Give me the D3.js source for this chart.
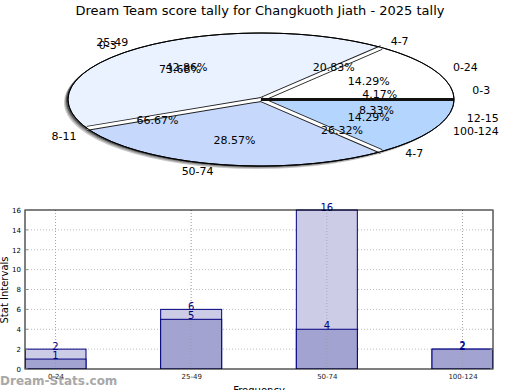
<!DOCTYPE html>
<html><head><meta charset="utf-8">
<script src="https://cdn.jsdelivr.net/npm/d3@7"></script>
<style>body{margin:0;background:#fff}svg{display:block;font-family:"DejaVu Sans",sans-serif}</style>
</head><body><svg id="c" width="520" height="390"></svg>
<script>
// ---- data ----
const title = "Dream Team score tally for Changkuoth Jiath - 2025 tally";
const pie1Labels = ["0-24","25-49","50-74","100-124"];
const pie1Values = [2,6,4,2];
const pie1Colors = ["#ffffff","#eaf1ff","#c6d9fd","#b4d5fe"];
const pie2Labels = ["0-3","4-7","8-11","12-15"];
const pie2Values = [1,5,16,2];
const pie3Labels = ["0-3","4-7"];
const pie3Values = [14,5];
const barCategories = ["0-24","25-49","50-74","100-124"];
const barLight = [2,6,16,2];
const barDark = [1,5,4,2];
const yTicks = [0,2,4,6,8,10,12,14,16];

const svg = d3.select("#c");
svg.append("text").attr("x",260).attr("y",15).attr("text-anchor","middle")
  .attr("font-size",13).attr("fill","#000").text(title);

// ---- 3D-ish pie ----
const cx=261, cy=99.5, rx=193, ry=66.5;
const pt=(a,fx,fy)=>[cx+Math.cos(a)*fx, cy-Math.sin(a)*fy];
function angles(vals){
  const tot=d3.sum(vals); let acc=0;
  return vals.map(v=>{const s=acc/tot*2*Math.PI; acc+=v; return {s, e:acc/tot*2*Math.PI, p:v/tot};});
}
const g=svg.append("g");
// shadow/depth
[[-4,3,"#c8c8c8"],[-3,2,"#9a9a9a"],[-2,1,"#555"]].forEach(([dx,dy,c])=>{
  g.append("ellipse").attr("cx",cx+dx).attr("cy",cy+dy).attr("rx",rx).attr("ry",ry)
   .attr("fill",c);
});
const a1=angles(pie1Values);
function slicePath(s,e){
  const p=d3.path(); p.moveTo(cx,cy);
  const n=60;
  for(let i=0;i<=n;i++){const a=s+(e-s)*i/n; const q=pt(a,rx,ry); p.lineTo(q[0],q[1]);}
  p.closePath(); return p.toString();
}
a1.forEach((d,i)=>{
  g.append("path").attr("d",slicePath(d.s,d.e)).attr("fill",pie1Colors[i])
   .attr("stroke","#000").attr("stroke-width",1);
});
// slice boundaries (white with dark edges)
a1.forEach((d,i)=>{
  if(d.s===0) return;
  const q=pt(d.s,rx,ry);
  g.append("line").attr("x1",cx).attr("y1",cy).attr("x2",q[0]).attr("y2",q[1])
   .attr("stroke","#222").attr("stroke-width",5);
  g.append("line").attr("x1",cx).attr("y1",cy).attr("x2",q[0]).attr("y2",q[1])
   .attr("stroke","#fff").attr("stroke-width",3);
});
{const q=pt(0,rx,ry);
 g.append("line").attr("x1",cx).attr("y1",cy).attr("x2",q[0]).attr("y2",q[1])
  .attr("stroke","#111").attr("stroke-width",3);}
g.append("ellipse").attr("cx",cx).attr("cy",cy).attr("rx",rx).attr("ry",ry)
 .attr("fill","none").attr("stroke","#000").attr("stroke-width",1);

function labels(labs,vals){
  angles(vals).forEach((d,i)=>{
    const m=(d.s+d.e)/2, c=Math.cos(m);
    const q=pt(m,rx+20,ry+7);
    g.append("text").attr("x",q[0]).attr("y",q[1]).attr("dy","0.35em")
     .attr("text-anchor", c>0.05?"start":(c<-0.05?"end":"middle"))
     .attr("font-size",11).attr("fill","#000").text(labs[i]);
    const r=pt(m,rx*0.62,ry*0.62);
    g.append("text").attr("x",r[0]).attr("y",r[1]).attr("dy","0.35em")
     .attr("text-anchor","middle").attr("font-size",11).attr("fill","#000")
     .text((d.p*100).toFixed(2)+"%");
  });
}
labels(pie1Labels,pie1Values);
labels(pie2Labels,pie2Values);
labels(pie3Labels,pie3Values);

// ---- bar chart ----
const L=25,R=493,T=210,B=369;
const x=d3.scalePoint().domain(barCategories).range([55.5,462.5]);
const y=d3.scaleLinear().domain([0,16]).range([B,T]);
const bw=61;
const b=svg.append("g");
b.append("rect").attr("x",L).attr("y",T).attr("width",R-L).attr("height",B-T).attr("fill","#fff");
// grid
yTicks.slice(1,-1).forEach(t=>{
  b.append("line").attr("x1",L).attr("x2",R).attr("y1",y(t)).attr("y2",y(t))
   .attr("stroke","#bbb").attr("stroke-dasharray","1,2");
});
barCategories.forEach(c=>{
  b.append("line").attr("x1",x(c)).attr("x2",x(c)).attr("y1",T).attr("y2",B)
   .attr("stroke","#bbb").attr("stroke-dasharray","1,2");
});
// bars
const clip=svg.append("clipPath").attr("id","pc").append("rect").attr("x",L).attr("y",T-1).attr("width",R-L).attr("height",B-T+1);
const bars=b.append("g").attr("clip-path","url(#pc)");
bars.selectAll(".l").data(barLight).join("rect")
  .attr("x",(d,i)=>x(barCategories[i])-bw/2).attr("y",d=>y(d))
  .attr("width",bw).attr("height",d=>B-y(d))
  .attr("fill","#ccccE6").attr("stroke","#000080").attr("stroke-width",1);
bars.selectAll(".d").data(barDark).join("rect")
  .attr("x",(d,i)=>x(barCategories[i])-bw/2).attr("y",d=>y(d))
  .attr("width",bw).attr("height",d=>B-y(d))
  .attr("fill","#a3a3d1").attr("stroke","#000080").attr("stroke-width",1);
// redraw vertical grid over bars (visible in reference)
barCategories.forEach(c=>{
  b.append("line").attr("x1",x(c)).attr("x2",x(c)).attr("y1",T).attr("y2",B)
   .attr("stroke","#999").attr("stroke-dasharray","1,2").attr("opacity",0.6);
});
// value labels
barLight.forEach((v,i)=>{
  b.append("text").attr("x",x(barCategories[i])).attr("y",y(v)-3).attr("dy","0.35em")
   .attr("text-anchor","middle").attr("font-size",10).attr("fill","#000080").text(v);
});
barDark.forEach((v,i)=>{
  b.append("text").attr("x",x(barCategories[i])).attr("y",y(v)-4).attr("dy","0.35em")
   .attr("text-anchor","middle").attr("font-size",10).attr("fill","#000080").text(v);
});
// frame
b.append("rect").attr("x",L).attr("y",T).attr("width",R-L).attr("height",B-T)
 .attr("fill","none").attr("stroke","#000").attr("stroke-width",1);
// y ticks
const yAxis=d3.axisLeft(y).tickValues(yTicks).tickSize(0).tickPadding(4);
const ya=b.append("g").attr("transform",`translate(${L},0)`).call(yAxis);
ya.select(".domain").remove();
ya.selectAll("text").attr("font-size",7).attr("font-family","DejaVu Sans").attr("fill","#000");
yTicks.forEach(t=>{
  b.append("line").attr("x1",L).attr("x2",L+3).attr("y1",y(t)).attr("y2",y(t)).attr("stroke","#888");
  b.append("line").attr("x1",R-3).attr("x2",R).attr("y1",y(t)).attr("y2",y(t)).attr("stroke","#888");
});
// x axis
const xAxis=d3.axisBottom(x).tickSize(0).tickPadding(5);
const xa=b.append("g").attr("transform",`translate(0,${B})`).call(xAxis);
xa.select(".domain").remove();
xa.selectAll("text").attr("font-size",7).attr("font-family","DejaVu Sans").attr("fill","#222");
svg.append("text").attr("x",259).attr("y",394).attr("text-anchor","middle")
  .attr("font-size",10).attr("fill","#000").text("Frequency");
svg.append("text").attr("transform","translate(8,290) rotate(-90)").attr("text-anchor","middle")
  .attr("font-size",10).attr("fill","#000").text("Stat Intervals");
svg.append("text").attr("x",0).attr("y",385).attr("font-size",12).attr("font-weight","bold")
  .attr("fill","#999").attr("opacity",0.85).text("Dream-Stats.com");
</script></body></html>
